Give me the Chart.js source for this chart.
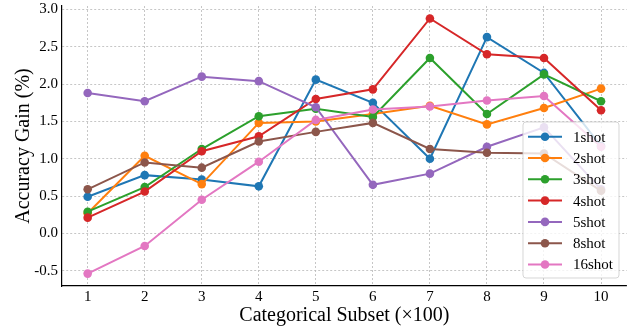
<!DOCTYPE html>
<html>
<head>
<meta charset="utf-8">
<script src="https://cdn.jsdelivr.net/npm/chart.js@4.4.1/dist/chart.umd.min.js"></script>
<style>
  html, body { margin: 0; padding: 0; background: #ffffff; }
  #wrap { width: 631px; height: 329px; }
</style>
</head>
<body>
<div id="wrap"><canvas id="c" width="631" height="329"></canvas></div>
<script>
const categories = [1, 2, 3, 4, 5, 6, 7, 8, 9, 10];
const shot1  = [0.49, 0.78, 0.72, 0.63, 2.06, 1.75, 1.00, 2.63, 2.15, 1.17];
const shot2  = [0.27, 1.04, 0.66, 1.48, 1.50, 1.60, 1.71, 1.46, 1.68, 1.94];
const shot3  = [0.29, 0.62, 1.13, 1.57, 1.67, 1.56, 2.35, 1.60, 2.13, 1.77];
const shot4  = [0.21, 0.56, 1.10, 1.30, 1.80, 1.93, 2.88, 2.40, 2.35, 1.65];
const shot5  = [1.88, 1.77, 2.10, 2.04, 1.69, 0.65, 0.80, 1.16, 1.42, 0.59];
const shot8  = [0.59, 0.95, 0.88, 1.23, 1.36, 1.48, 1.13, 1.08, 1.07, 0.57];
const shot16 = [-0.54, -0.17, 0.45, 0.96, 1.52, 1.66, 1.70, 1.78, 1.84, 1.16];
const seriesLabels = ['1shot', '2shot', '3shot', '4shot', '5shot', '8shot', '16shot'];
const seriesValues = [shot1, shot2, shot3, shot4, shot5, shot8, shot16];
const seriesColors = ['#1f77b4', '#ff7f0e', '#2ca02c', '#d62728', '#9467bd', '#8c564b', '#e377c2'];
const yTicks = [-0.5, 0.0, 0.5, 1.0, 1.5, 2.0, 2.5, 3.0];
const xTitle = 'Categorical Subset (×100)';
const yTitle = 'Accuracy Gain (%)';

const FONT = "'Liberation Serif', 'Times New Roman', serif";

const datasets = seriesValues.map((vals, i) => ({
  label: seriesLabels[i],
  data: categories.map((c, j) => ({ x: c, y: vals[j] })),
  borderColor: seriesColors[i],
  backgroundColor: seriesColors[i],
  pointBackgroundColor: seriesColors[i],
  pointBorderColor: seriesColors[i],
  borderWidth: 2,
  pointRadius: 4.3,
  pointBorderWidth: 0,
  tension: 0,
  order: seriesValues.length - i
}));

const legendPlugin = {
  id: 'insideLegend',
  afterDraw(chart) {
    const ctx = chart.ctx;
    const x0 = 523, y0 = 122, w = 96, h = 156, r = 3;
    ctx.save();
    ctx.beginPath();
    ctx.moveTo(x0 + r, y0);
    ctx.lineTo(x0 + w - r, y0);
    ctx.arcTo(x0 + w, y0, x0 + w, y0 + r, r);
    ctx.lineTo(x0 + w, y0 + h - r);
    ctx.arcTo(x0 + w, y0 + h, x0 + w - r, y0 + h, r);
    ctx.lineTo(x0 + r, y0 + h);
    ctx.arcTo(x0, y0 + h, x0, y0 + h - r, r);
    ctx.lineTo(x0, y0 + r);
    ctx.arcTo(x0, y0, x0 + r, y0, r);
    ctx.closePath();
    ctx.fillStyle = 'rgba(255,255,255,0.8)';
    ctx.fill();
    ctx.strokeStyle = 'rgba(204,204,204,0.8)';
    ctx.lineWidth = 1;
    ctx.stroke();
    chart.data.datasets.forEach((ds, i) => {
      const cy = 136.7 + i * 21.3;
      ctx.strokeStyle = ds.borderColor;
      ctx.lineWidth = 2;
      ctx.beginPath();
      ctx.moveTo(528, cy);
      ctx.lineTo(562, cy);
      ctx.stroke();
      ctx.fillStyle = ds.borderColor;
      ctx.beginPath();
      ctx.arc(545, cy, 4.3, 0, Math.PI * 2);
      ctx.fill();
      ctx.fillStyle = '#000';
      ctx.font = '15px ' + FONT;
      ctx.textBaseline = 'middle';
      ctx.textAlign = 'left';
      ctx.fillText(ds.label, 573, cy + 1);
    });
    ctx.restore();
  }
};

new Chart(document.getElementById('c'), {
  type: 'line',
  data: { datasets },
  plugins: [legendPlugin],
  options: {
    responsive: false,
    animation: false,
    devicePixelRatio: 1,
    layout: { padding: { top: 6, right: 4, left: 0, bottom: 0 } },
    plugins: { legend: { display: false }, tooltip: { enabled: false } },
    scales: {
      x: {
        type: 'linear',
        min: 0.55,
        max: 10.45,
        afterBuildTicks(scale) { scale.ticks = categories.map(v => ({ value: v })); },
        afterFit(scale) { scale.height = 43; },
        ticks: {
          color: '#000',
          font: { family: FONT, size: 15 },
          padding: 2,
          maxRotation: 0,
          callback: (v) => String(v)
        },
        grid: { color: '#b8b8b8', lineWidth: 0.8, drawTicks: false },
        border: { color: '#000', width: 1.2, dash: [2, 2] },
        title: {
          display: true,
          text: xTitle,
          color: '#000',
          font: { family: FONT, size: 20 },
          padding: { top: 0, bottom: 1 }
        }
      },
      y: {
        type: 'linear',
        min: -0.706,
        max: 3.047,
        afterBuildTicks(scale) { scale.ticks = yTicks.map(v => ({ value: v })); },
        afterFit(scale) { scale.width = 62; scale.paddingTop = 0; scale.paddingBottom = 0; },
        ticks: {
          color: '#000',
          font: { family: FONT, size: 15 },
          padding: 4,
          callback: (v) => Number(v).toFixed(1)
        },
        grid: { color: '#b8b8b8', lineWidth: 0.8, drawTicks: false },
        border: { color: '#000', width: 1.2, dash: [2, 2] },
        title: {
          display: true,
          text: yTitle,
          color: '#000',
          font: { family: FONT, size: 20 },
          padding: { top: 12, bottom: 0 }
        }
      }
    }
  }
});
</script>
</body>
</html>
